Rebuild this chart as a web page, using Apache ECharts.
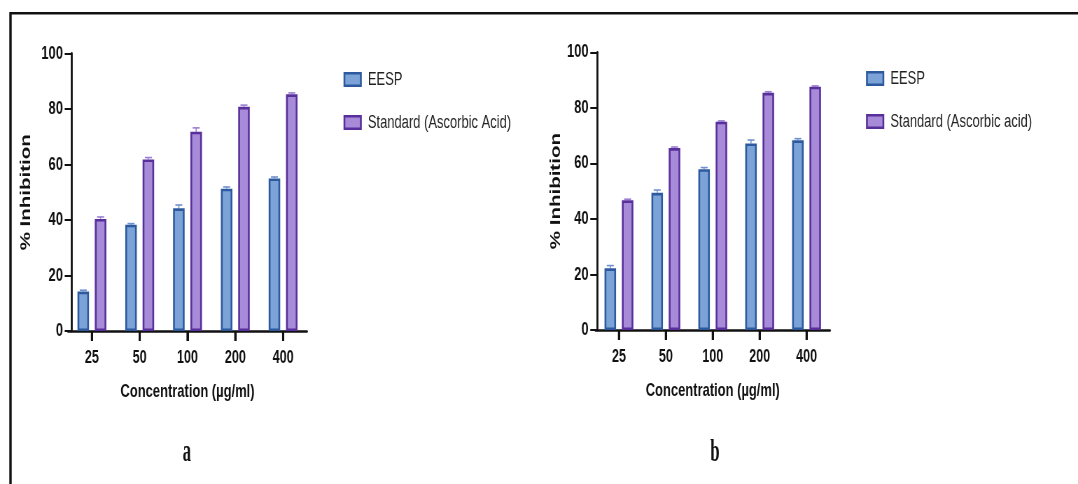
<!DOCTYPE html>
<html>
<head>
<meta charset="utf-8">
<script src="https://cdn.jsdelivr.net/npm/echarts@6/dist/echarts.min.js"></script>
<style>
  html, body { margin: 0; padding: 0; width: 1078px; height: 484px; overflow: hidden; background: #fff; }
  /* the source figure is squeezed horizontally, so draw wide and squeeze */
  #chart { width: 1540px; height: 484px; transform: scaleX(0.7); transform-origin: 0 0; }
</style>
</head>
<body>
<div id="chart"></div>
<script>
// data
const categories = ['25', '50', '100', '200', '400']
const eespA = [14.2, 38.3, 44.2, 51.3, 55.0]
const eespAErr = [0.5, 0.4, 1.2, 0.6, 0.5]
const stdA = [40.4, 61.8, 71.8, 80.8, 85.3]
const stdAErr = [0.7, 0.7, 1.4, 0.6, 0.5]
const eespB = [22.2, 49.4, 57.9, 67.2, 68.3]
const eespBErr = [1.0, 1.0, 0.6, 1.2, 0.6]
const stdB = [46.7, 65.5, 75.0, 85.4, 87.6]
const stdBErr = [0.4, 0.4, 0.3, 0.4, 0.3]
const yTicks = [0, 20, 40, 60, 80, 100]

const SX = 0.7
const u = v => v / SX // picture x -> unscaled x
const FONT = "'Liberation Sans', Arial, sans-serif"
const BAR_W = 16.5
const BAR_GAP = 0.5
const OFF = (BAR_W + BAR_W * BAR_GAP) / 2

const EESP_FILL = '#7ba3d8'
const EESP_LINE = '#2d5a9e'
const STD_FILL = '#a78ad8'
const STD_LINE = '#592f9b'

function xAxis (grid) {
  return {
    type: 'category',
    gridIndex: grid,
    data: categories,
    name: 'Concentration (µg/ml)',
    nameLocation: 'middle',
    nameGap: 51,
    nameTextStyle: { fontFamily: FONT, fontWeight: 'bold', fontSize: 18.5, color: '#111' },
    axisLine: { show: true, onZero: false, lineStyle: { color: '#111', width: 2.5 } },
    axisTick: { show: true, inside: false, alignWithLabel: true, length: 10, lineStyle: { color: '#111', width: 3 } },
    axisLabel: { margin: 18, fontFamily: FONT, fontWeight: 'bold', fontSize: 18, color: '#111' }
  }
}

function yAxis (grid, offset, gap) {
  return {
    type: 'value',
    gridIndex: grid,
    min: yTicks[0],
    max: yTicks[yTicks.length - 1],
    interval: 20,
    offset: offset,
    name: '% Inhibition',
    nameLocation: 'middle',
    nameGap: gap,
    nameTextStyle: { fontFamily: FONT, fontWeight: 'bold', fontSize: 20.5, color: '#111' },
    axisLine: { show: true, lineStyle: { color: '#111', width: 2.8 } },
    axisTick: { show: true, length: 10, lineStyle: { color: '#111', width: 2 } },
    axisLabel: { margin: 12.5, fontFamily: FONT, fontWeight: 'bold', fontSize: 18.5, color: '#111' },
    splitLine: { show: false }
  }
}

function bars (name, values, grid, fill, line) {
  return {
    name: name,
    type: 'bar',
    xAxisIndex: grid,
    yAxisIndex: grid,
    data: values,
    barWidth: BAR_W,
    barGap: (BAR_GAP * 100) + '%',
    itemStyle: { color: fill, borderColor: line, borderWidth: 2.6 },
    emphasis: { disabled: true }
  }
}

function errors (name, values, errs, grid, dx, color) {
  return {
    name: name,
    type: 'custom',
    xAxisIndex: grid,
    yAxisIndex: grid,
    z: 1,
    silent: true,
    data: values.map((v, i) => [i, v, errs[i]]),
    renderItem (params, api) {
      const base = api.coord([api.value(0), api.value(1)])
      const top = api.coord([api.value(0), api.value(1) + api.value(2)])
      const x = base[0] + dx
      return {
        type: 'group',
        children: [
          { type: 'line', shape: { x1: x, y1: base[1], x2: x, y2: top[1] }, style: { stroke: color, lineWidth: 1.6 } },
          { type: 'line', shape: { x1: x - 5, y1: top[1], x2: x + 5, y2: top[1] }, style: { stroke: color, lineWidth: 1.6 } }
        ]
      }
    }
  }
}

// category ticks under the x axis, drawn as small rects at each category
function xTicks (name, grid) {
  return {
    name: name,
    type: 'custom',
    xAxisIndex: grid,
    yAxisIndex: grid,
    silent: true,
    clip: false,
    z: 10,
    data: categories.map((c, i) => [i, yTicks[0]]),
    renderItem (params, api) {
      const p = api.coord([api.value(0), api.value(1)])
      return { type: 'rect', shape: { x: p[0] - 1.5, y: p[1], width: 3, height: 10 }, style: { fill: '#111' } }
    }
  }
}

function legend (left, top, names) {
  return {
    left: left,
    top: top,
    orient: 'vertical',
    icon: 'rect',
    itemWidth: 23.5,
    itemHeight: 12.5,
    itemGap: 24,
    data: names,
    selectedMode: false,
    itemStyle: { borderWidth: 2.6 },
    textStyle: { fontFamily: FONT, fontSize: 18.5, color: '#222', padding: [0, 0, 0, 5] }
  }
}

const chart = echarts.init(document.getElementById('chart'))

chart.setOption({
  backgroundColor: '#fff',
  animation: false,
  grid: [
    { left: u(68), top: 53.5, width: u(239), height: 277.5 },
    { left: u(595.5), top: 52.3, width: u(234.5), height: 277.7 }
  ],
  xAxis: [xAxis(0), xAxis(1)],
  yAxis: [yAxis(0, u(-3.7), u(38.4)), yAxis(1, u(-1.8), u(34))],
  legend: [
    legend(u(340), 65, ['EESP', 'Standard (Ascorbic Acid)']),
    legend(u(862.5), 64, ['EESP', 'Standard (Ascorbic acid)'])
  ],
  series: [
    errors('errA1', eespA, eespAErr, 0, -OFF, '#6f92cf'),
    errors('errA2', stdA, stdAErr, 0, OFF, '#9b7fd2'),
    errors('errB1', eespB, eespBErr, 1, -OFF, '#6f92cf'),
    errors('errB2', stdB, stdBErr, 1, OFF, '#9b7fd2'),
    bars('EESP', eespA, 0, EESP_FILL, EESP_LINE),
    bars('Standard (Ascorbic Acid)', stdA, 0, STD_FILL, STD_LINE),
    bars('EESP', eespB, 1, EESP_FILL, EESP_LINE),
    bars('Standard (Ascorbic acid)', stdB, 1, STD_FILL, STD_LINE),
    xTicks('ticksA', 0),
    xTicks('ticksB', 1)
  ],
  graphic: [
    { type: 'line', shape: { x1: u(10.5), y1: 13.3, x2: u(1078), y2: 13.3 }, style: { stroke: '#111', lineWidth: 2.6 } },
    { type: 'line', shape: { x1: u(10.5), y1: 12, x2: u(10.5), y2: 484 }, style: { stroke: '#111', lineWidth: u(2.4) } },
    { type: 'text', x: u(186.8), y: 453, scaleX: 0.74, style: { text: 'a', font: "bold 32px 'Liberation Serif', 'Times New Roman', serif", fill: '#111', textAlign: 'center', textVerticalAlign: 'middle' } },
    { type: 'text', x: u(715), y: 453, scaleX: 0.74, style: { text: 'b', font: "bold 32px 'Liberation Serif', 'Times New Roman', serif", fill: '#111', textAlign: 'center', textVerticalAlign: 'middle' } }
  ]
})
</script>
</body>
</html>
